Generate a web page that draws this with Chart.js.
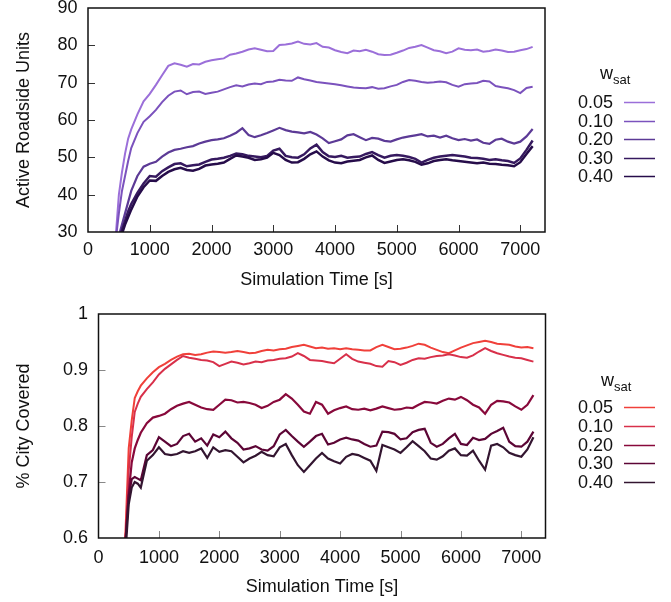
<!DOCTYPE html>
<html>
<head>
<meta charset="utf-8">
<script src="https://cdn.jsdelivr.net/npm/chart.js@4.4.1/dist/chart.umd.min.js"></script>
<style>
    html, body { margin: 0; padding: 0; background: #fff; }
    #wrap { position: relative; width: 671px; height: 602px; }
    canvas { position: absolute; left: 0; }
    #unitsChart { top: 0; }
    #coverChart { top: 300px; }
</style>
</head>
<body>
<div id="wrap">
    <canvas id="unitsChart" width="671" height="300"></canvas>
    <canvas id="coverChart" width="671" height="302"></canvas>
</div>
<script>
// ---- data ----
const times = [420, 450, 500, 550, 600, 650, 700,
    800, 900, 1000, 1100, 1200, 1300, 1400, 1500, 1600, 1700,
    1800, 1900, 2000, 2100, 2200, 2300, 2400, 2500, 2600, 2700,
    2800, 2900, 3000, 3100, 3200, 3300, 3400, 3500, 3600, 3700,
    3800, 3900, 4000, 4100, 4200, 4300, 4400, 4500, 4600, 4700,
    4800, 4900, 5000, 5100, 5200, 5300, 5400, 5500, 5600, 5700,
    5800, 5900, 6000, 6100, 6200, 6300, 6400, 6500, 6600, 6700,
    6800, 6900, 7000, 7100, 7200];

const wSat = ['0.05', '0.10', '0.20', '0.30', '0.40'];

const xTicks = [0, 1000, 2000, 3000, 4000, 5000, 6000, 7000];
const unitsTicks = [30, 40, 50, 60, 70, 80, 90];
const coverTicks = [0.6, 0.7, 0.8, 0.9, 1];

// Active roadside units
const units005 = [26, 29, 40, 46, 51, 55, 57.5,
    61.5, 65, 67, 69.4, 72, 74.5, 75.2, 74.8, 74.3, 75,
    74.9, 75.6, 76, 76.3, 76.5, 77.5, 77.8, 78.3, 78.9, 79.2,
    78.8, 78.4, 78.5, 80.1, 80.2, 80.5, 81, 80.4, 80.2, 80.6,
    79.6, 79.4, 78.7, 78.2, 77.9, 78.6, 78.4, 78.8, 78.3, 77.6,
    77.4, 77.5, 78, 78.6, 79.3, 79.6, 80.1, 79.4, 78.7, 78.4,
    77.9, 78.3, 79.2, 78.8, 78.7, 78.9, 78.3, 78.5, 78.9, 78.6,
    78.2, 78.3, 78.7, 79, 79.6];
const units010 = [25, 28, 35, 41, 45, 49, 52.5,
    56.5, 59.5, 61, 62.7, 64.8, 66.5, 67.6, 67.9, 66.9, 67.5,
    67.6, 67, 67.3, 67.6, 68.2, 68.8, 69.3, 69, 69.5, 69.8,
    69.6, 70.2, 70.3, 70.8, 70.6, 70.5, 71.4, 70.9, 70.6, 70.2,
    70, 69.8, 69.6, 69.3, 69, 68.7, 68.6, 68.5, 68.8, 68.4,
    68.5, 69, 69.4, 70.2, 70.7, 70.5, 70.2, 70, 70.1, 70.3,
    70.1, 69.4, 68.9, 69.6, 69.8, 69.9, 70.5, 70.3, 69.1, 68.8,
    68.5, 68, 67.2, 68.6, 68.9];
const units020 = [24, 26, 29, 32, 35, 38, 41,
    45, 47.5, 48.3, 48.8, 50.2, 51.3, 52, 52.3, 52.7, 53,
    53.7, 54.2, 54.6, 54.8, 55.1, 55.8, 56.6, 57.8, 56, 55.4,
    55.9, 56.5, 57.2, 57.9, 57.3, 56.9, 56.7, 56.4, 56.8, 56.1,
    55.1, 53.8, 54.3, 54.8, 55.9, 56.2, 55.4, 54.6, 55.2, 55,
    54.4, 54.2, 54.8, 55.3, 55.6, 55.9, 56.2, 55.6, 55.8, 55.3,
    55.8, 55.1, 54.6, 54.9, 54.5, 54.8, 53.9, 53.6, 54.7, 55,
    54.2, 53.7, 54.2, 55.6, 57.6];
const units030 = [23, 25, 28, 30.5, 33, 35.5, 37.5,
    40.5, 43, 45, 44.8, 46.3, 47.3, 48.2, 48.4, 47.6, 47.9,
    48.1, 48.8, 49.4, 49.6, 49.9, 50.4, 51, 50.8, 50.4, 50.2,
    50, 50.4, 51.8, 52.3, 50.4, 50, 49.9, 50.8, 52.4, 53.4,
    51.4, 50.3, 50.1, 50.4, 49.9, 50.1, 50.2, 50.9, 51.4, 50.6,
    49.9, 50.4, 50.6, 50.4, 50.1, 49.6, 48.6, 49.3, 49.9, 50.2,
    50.4, 50.6, 50.4, 50.2, 49.9, 49.8, 49.6, 49.3, 49.5, 49.2,
    49, 48.5, 49.7, 52, 54.5];
const units040 = [22, 24, 27, 29.5, 32, 34, 36,
    39.5, 42, 43.8, 43.7, 45, 46.1, 46.8, 47.2, 46.6, 46.4,
    46.9, 47.8, 48.1, 48.3, 48.6, 49.6, 50.5, 50.2, 49.9, 49.3,
    49.5, 49.9, 51.2, 50.6, 49.3, 48.6, 48.7, 49.6, 50.8, 51.6,
    50.2, 49.2, 48.6, 48.4, 48.9, 49.1, 49.3, 50, 50.5, 49.3,
    48.5, 48.9, 49.3, 49.5, 49.2, 48.8, 48, 48.4, 49, 49.3,
    49.5, 49.2, 49, 48.8, 48.6, 48.4, 48.6, 48.3, 48.2, 48,
    47.9, 47.6, 48.7, 50.9, 53];

// Share of city covered
const cover005 = [0.55, 0.62, 0.76, 0.81, 0.85, 0.862, 0.872,
    0.885, 0.896, 0.905, 0.911, 0.918, 0.924, 0.928, 0.929, 0.927, 0.928,
    0.931, 0.933, 0.932, 0.931, 0.932, 0.934, 0.932, 0.93, 0.931, 0.934,
    0.936, 0.935, 0.937, 0.938, 0.941, 0.943, 0.945, 0.942, 0.939, 0.94,
    0.938, 0.939, 0.937, 0.939, 0.937, 0.936, 0.935, 0.935, 0.941, 0.945,
    0.941, 0.937, 0.938, 0.94, 0.943, 0.947, 0.945, 0.94, 0.936, 0.932,
    0.93, 0.935, 0.94, 0.944, 0.948, 0.95, 0.952, 0.95, 0.947, 0.946,
    0.945, 0.942, 0.94, 0.941, 0.939];
const cover010 = [0.54, 0.6, 0.72, 0.78, 0.825, 0.84, 0.852,
    0.866, 0.878, 0.892, 0.902, 0.91, 0.918, 0.925, 0.922, 0.92, 0.918,
    0.917, 0.914, 0.907, 0.911, 0.915, 0.913, 0.91, 0.912, 0.915, 0.914,
    0.917, 0.918, 0.92, 0.921, 0.924, 0.93, 0.925, 0.918, 0.917, 0.916,
    0.914, 0.912, 0.92, 0.928, 0.92, 0.915, 0.913, 0.911, 0.907, 0.906,
    0.916, 0.914, 0.909, 0.913, 0.918, 0.921, 0.92, 0.923, 0.925, 0.926,
    0.928, 0.926, 0.923, 0.922, 0.926, 0.933, 0.939, 0.934, 0.93, 0.927,
    0.924, 0.922, 0.921, 0.918, 0.915];
const cover020 = [0.54, 0.6, 0.68, 0.735, 0.76, 0.775, 0.788,
    0.805, 0.815, 0.818, 0.822, 0.83, 0.836, 0.84, 0.843, 0.838, 0.833,
    0.83, 0.829, 0.838, 0.847, 0.846, 0.842, 0.843, 0.841, 0.838, 0.832,
    0.836, 0.843, 0.847, 0.857, 0.849, 0.838, 0.826, 0.822, 0.843, 0.838,
    0.822, 0.828, 0.832, 0.835, 0.83, 0.829, 0.831, 0.828, 0.831, 0.835,
    0.832, 0.829, 0.83, 0.833, 0.832, 0.838, 0.843, 0.842, 0.84, 0.845,
    0.849, 0.847, 0.852, 0.846, 0.838, 0.833, 0.822, 0.838, 0.845, 0.844,
    0.842, 0.835, 0.829, 0.838, 0.855];
const cover030 = [0.54, 0.6, 0.675, 0.705, 0.709, 0.706, 0.703,
    0.748, 0.757, 0.78, 0.772, 0.764, 0.768, 0.782, 0.786, 0.772, 0.778,
    0.765, 0.785, 0.78, 0.79, 0.778, 0.77, 0.758, 0.76, 0.764, 0.758,
    0.756, 0.764, 0.785, 0.793, 0.782, 0.772, 0.763, 0.772, 0.782, 0.786,
    0.767, 0.77, 0.776, 0.779, 0.776, 0.774, 0.768, 0.763, 0.765, 0.79,
    0.789, 0.786, 0.776, 0.778, 0.789, 0.793, 0.795, 0.77, 0.763, 0.768,
    0.778, 0.786, 0.768, 0.766, 0.779, 0.775, 0.777, 0.786, 0.791, 0.797,
    0.772, 0.764, 0.763, 0.772, 0.79];
const cover040 = [0.53, 0.58, 0.66, 0.69, 0.7, 0.697, 0.69,
    0.738, 0.748, 0.762, 0.75, 0.748, 0.75, 0.755, 0.752, 0.755, 0.76,
    0.743, 0.762, 0.754, 0.757, 0.755, 0.745, 0.735, 0.742, 0.747, 0.754,
    0.748, 0.746, 0.762, 0.768, 0.748, 0.73, 0.718, 0.73, 0.742, 0.752,
    0.742, 0.737, 0.733, 0.745, 0.75, 0.748, 0.743, 0.738, 0.72, 0.766,
    0.762, 0.758, 0.752, 0.762, 0.773, 0.764, 0.755, 0.742, 0.74, 0.746,
    0.756, 0.76, 0.748, 0.747, 0.756, 0.738, 0.722, 0.765, 0.768, 0.762,
    0.752, 0.748, 0.745, 0.758, 0.78];

const purples = ['#9b6fd9', '#7b52bd', '#5c3a96', '#36195f', '#260c4a'];
const reds = ['#f0403a', '#d8304a', '#88093b', '#5c0535', '#331530'];

const FONT = '"Liberation Sans", Arial, Helvetica, sans-serif';
Chart.defaults.font.family = FONT;
Chart.defaults.font.size = 18;
Chart.defaults.color = '#111';

// gnuplot-style box with inward ticks on left and bottom
const framePlugin = {
    id: 'frame',
    afterDatasetsDraw(chart, args, opts) {
        const { ctx, chartArea: a, scales } = chart;
        ctx.save();
        ctx.strokeStyle = opts.tickColor;
        ctx.lineWidth = 1;
        scales.x.ticks.forEach(t => {
            const px = Math.round(scales.x.getPixelForValue(t.value)) + 0.5;
            if (px < a.left + 2 || px > a.right - 2) return;
            ctx.beginPath();
            ctx.moveTo(px, a.bottom);
            ctx.lineTo(px, a.bottom - 7);
            ctx.stroke();
        });
        scales.y.ticks.forEach(t => {
            const py = Math.round(scales.y.getPixelForValue(t.value)) + 0.5;
            if (py < a.top + 2 || py > a.bottom - 2) return;
            ctx.beginPath();
            ctx.moveTo(a.left, py);
            ctx.lineTo(a.left + 7, py);
            ctx.stroke();
        });
        ctx.strokeStyle = '#111';
        ctx.lineWidth = 1.5;
        ctx.strokeRect(a.left, a.top, a.right - a.left, a.bottom - a.top);
        ctx.restore();
    }
};

// key on the right: "w_sat" title then label + line sample
const keyPlugin = {
    id: 'key',
    afterDraw(chart, args, opts) {
        const ctx = chart.ctx;
        ctx.save();
        ctx.fillStyle = '#111';
        ctx.textBaseline = 'alphabetic';
        ctx.textAlign = 'left';
        ctx.font = '18px ' + FONT;
        ctx.fillText('w', opts.titleX, opts.titleY);
        const w = ctx.measureText('w').width;
        ctx.font = '13px ' + FONT;
        ctx.fillText('sat', opts.titleX + w, opts.titleY + 5);
        ctx.font = '18px ' + FONT;
        ctx.textAlign = 'right';
        chart.data.datasets.forEach((ds, i) => {
            const y = opts.firstY + i * opts.gap;
            ctx.fillText(ds.label, 613, y + 6);
            ctx.strokeStyle = ds.borderColor;
            ctx.lineWidth = 1.5;
            ctx.beginPath();
            ctx.moveTo(624, Math.round(y) + 0.5);
            ctx.lineTo(655, Math.round(y) + 0.5);
            ctx.stroke();
        });
        ctx.restore();
    }
};

function makeChart(id, series, colors, cfg) {
    const datasets = series.map((vals, i) => ({
        label: wSat[i],
        data: times.map((t, k) => ({ x: t, y: vals[k] })),
        borderColor: colors[i],
        borderWidth: cfg.widths[i],
        pointRadius: 0,
        tension: 0,
        clip: 0,
        order: -i
    }));

    return new Chart(document.getElementById(id), {
        type: 'line',
        data: { datasets },
        plugins: [framePlugin, keyPlugin],
        options: {
            responsive: false,
            animation: false,
            events: [],
            layout: { padding: { top: cfg.top, right: cfg.right, left: 0, bottom: 0 } },
            plugins: {
                legend: { display: false },
                tooltip: { enabled: false },
                frame: { tickColor: cfg.tickColor },
                key: cfg.key
            },
            scales: {
                x: {
                    type: 'linear',
                    min: 0,
                    max: 7400,
                    afterBuildTicks: s => { s.ticks = xTicks.map(v => ({ value: v })); },
                    afterFit: s => {
                        s.height = cfg.xHeight;
                        s.paddingLeft = 0;
                        s.paddingRight = 0;
                    },
                    grid: { display: false, drawTicks: false },
                    border: { display: false },
                    ticks: {
                        padding: cfg.xPad,
                        color: '#111',
                        maxRotation: 0,
                        callback: v => String(v)
                    },
                    title: {
                        display: true,
                        text: 'Simulation Time [s]',
                        color: '#111',
                        padding: { top: 0, bottom: cfg.xTitlePad }
                    }
                },
                y: {
                    min: cfg.yTicks[0],
                    max: cfg.yTicks[cfg.yTicks.length - 1],
                    afterBuildTicks: s => { s.ticks = cfg.yTicks.map(v => ({ value: v })); },
                    afterFit: s => {
                        s.width = cfg.left;
                        s.paddingTop = 0;
                        s.paddingBottom = 0;
                    },
                    grid: { display: false, drawTicks: false },
                    border: { display: false },
                    ticks: {
                        padding: 10.5,
                        color: '#111',
                        callback: v => String(+Number(v).toFixed(1))
                    },
                    title: {
                        display: true,
                        text: cfg.yTitle,
                        color: '#111',
                        padding: { top: 13, bottom: 0 }
                    }
                }
            }
        }
    });
}

makeChart('unitsChart', [units005, units010, units020, units030, units040], purples, {
    top: 8, right: 126, left: 88, xHeight: 68, xPad: 7.5, xTitlePad: 9.5,
    widths: [2, 2, 2.2, 2.5, 2.5],
    yTicks: unitsTicks, yTitle: 'Active Roadside Units', tickColor: '#333',
    key: { titleX: 600, titleY: 79, firstY: 102, gap: 18.6 }
});

makeChart('coverChart', [cover005, cover010, cover020, cover030, cover040], reds, {
    top: 14, right: 125.5, left: 98.5, xHeight: 64, xPad: 9.5, xTitlePad: 4.5,
    widths: [2, 2, 2.2, 2.2, 2.2],
    yTicks: coverTicks, yTitle: '% City Covered', tickColor: '#888',
    key: { titleX: 601, titleY: 86, firstY: 107.3, gap: 18.6 }
});
</script>
</body>
</html>
